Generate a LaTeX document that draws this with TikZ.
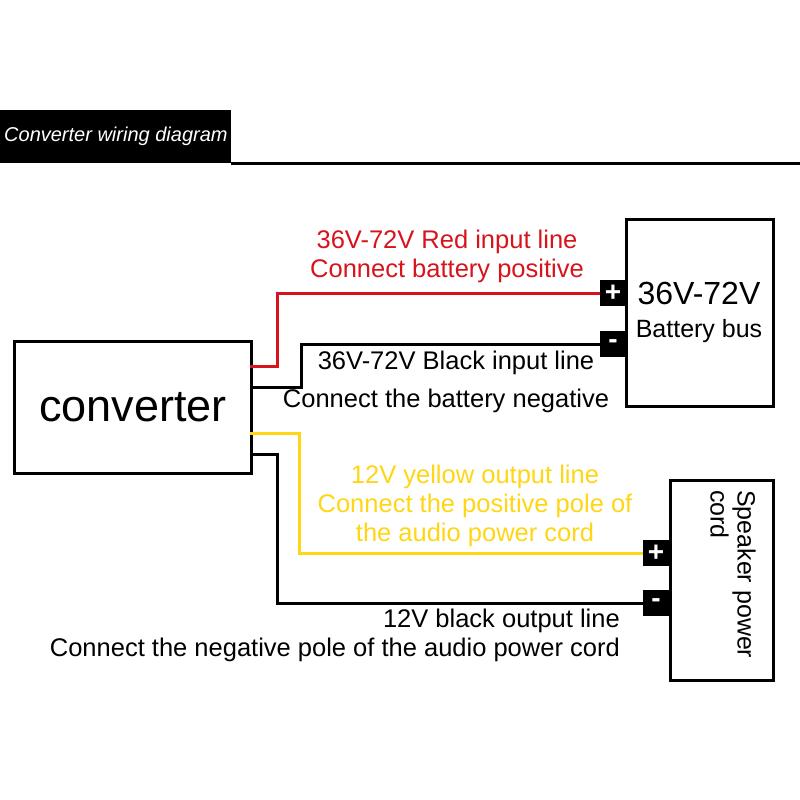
\documentclass[tikz,border=0pt]{standalone}
\usepackage{fontspec}
\setmainfont{Liberation Sans}
\begin{document}
\begin{tikzpicture}[x=1pt,y=-1pt,
  box/.style={draw=black,line width=3pt,fill=white},
  wire/.style={line width=3pt},
  term/.style={fill=black,text=white,inner sep=0pt,minimum width=26pt,minimum height=26pt,font=\fontsize{28}{28}\selectfont\bfseries},
  lbl/.style={font=\fontsize{25.5}{29}\selectfont,align=center,inner sep=0pt}]
\definecolor{wred}{RGB}{215,20,28}
\definecolor{wyel}{RGB}{255,214,20}
\useasboundingbox (0,0) rectangle (800,800);
\node[fill=black,minimum width=231pt,minimum height=53pt,anchor=north west,inner sep=0pt] (hdr) at (0,110) {};
\node[text=white,anchor=west,font=\fontsize{20}{20}\selectfont\itshape,inner sep=0pt] (htxt) at (4,136) {Converter wiring diagram};
\draw[line width=3pt] (hdr.south east) -- ++(569,0) coordinate (hend);
\node[box,anchor=north west,minimum width=237pt,minimum height=132pt,font=\fontsize{45}{45}\selectfont] (conv) at (13,340) {converter};
\draw[box] (626,219) rectangle (773,406);
\node[font=\fontsize{32}{32}\selectfont,inner sep=0pt] (bv) at (699,293) {36V-72V};
\node[font=\fontsize{25}{25}\selectfont,inner sep=0pt] (bb) at (699,331) {Battery bus};
\draw[box] (670,480) rectangle (773,680);
\node[rotate=-90,anchor=north west,align=left,font=\fontsize{25}{27}\selectfont,inner sep=0pt] (spk) at (756,490) {Speaker power\\cord};
\node[term] (bp) at (613,293) {+};
\node[term] (bm) at (613,344) {-};
\node[term] (sp) at (656,553) {+};
\node[term] (sm) at (656,603) {-};
\coordinate (c1) at (250,366);
\coordinate (c2) at (250,387);
\coordinate (c3) at (250,433);
\coordinate (c4) at (250,454);
\draw[wire,wred] (c1) -- (277,366) |- (bp.west);
\draw[wire] (c2) -- (301,387) |- (bm.west);
\draw[wire,wyel] (c3) -- (299,433) |- (sp.west);
\draw[wire] (c4) -- (277,454) |- (sm.west);
\node[lbl,text=wred] (t1) at (447,256) {36V-72V Red input line\\Connect battery positive};
\node[lbl] (t2) at (456,363) {36V-72V Black input line};
\node[lbl] (t3) at (446,401) {Connect the battery negative};
\node[lbl,text=wyel] (t4) at (475,506) {12V yellow output line\\Connect the positive pole of\\the audio power cord};
\node[lbl,align=right,anchor=east] (t5) at (620,635) {12V black output line\\Connect the negative pole of the audio power cord};
\end{tikzpicture}
\end{document}
